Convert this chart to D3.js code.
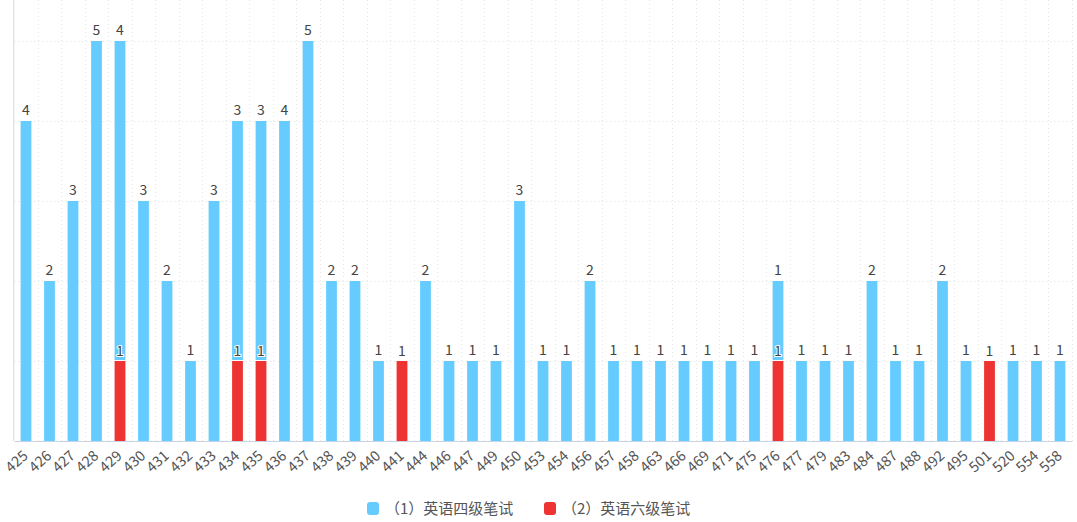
<!DOCTYPE html>
<html><head><meta charset="utf-8">
<script src="https://cdn.jsdelivr.net/npm/d3@7"></script>
<style>body{margin:0;background:#fff;font-family:"Noto Sans CJK SC","Noto Sans",sans-serif;}</style>
</head><body><svg id="c" width="1077" height="522"></svg>
<script>
const categories = ["425","426","427","428","429","430","431","432","433","434","435","436","437","438","439","440","441","444","446","447","449","450","453","454","456","457","458","463","466","469","471","475","476","477","479","483","484","487","488","492","495","501","520","554","558"];
const cet4 = [4,2,3,5,4,3,2,1,3,3,3,4,5,2,2,1,0,2,1,1,1,3,1,1,2,1,1,1,1,1,1,1,1,1,1,1,2,1,1,2,1,0,1,1,1];
const cet6 = [0,0,0,0,1,0,0,0,0,1,1,0,0,0,0,0,1,0,0,0,0,0,0,0,0,0,0,0,0,0,0,0,1,0,0,0,0,0,0,0,0,1,0,0,0];
const seriesNames = ["（1）英语四级笔试","（2）英语六级笔试"];
const colors = ["#66CCFF","#EE3333"];
const yTicks = [0,1,2,3,4,5];

const svg = d3.select("#c");
const left = 14.25, right = 1071.75, top0 = 0, bottom = 441;
const x = d3.scaleBand().domain(categories).range([left, right]).padding(0);
const y = d3.scaleLinear().domain([0,5]).range([bottom, 41]);
const bw = 10.8;
const font = "'Noto Sans CJK SC','Noto Sans',sans-serif";

svg.append("g").selectAll("line").data(yTicks.slice(1)).join("line")
  .attr("x1", left).attr("x2", right).attr("y1", d=>y(d)+0.5).attr("y2", d=>y(d)+0.5)
  .attr("stroke","#dedede").attr("stroke-dasharray","1,3");
svg.append("g").selectAll("line").data(categories).join("line")
  .attr("x1", (d,i)=>Math.round(left + (i+1)*x.bandwidth())+0.5)
  .attr("x2", (d,i)=>Math.round(left + (i+1)*x.bandwidth())+0.5)
  .attr("y1", top0).attr("y2", bottom)
  .attr("stroke","#e6e6e6").attr("stroke-dasharray","1,3");

const data = categories.map((c,i)=>({c, v6: cet6[i], v4: cet4[i]}));
svg.append("g").selectAll("rect").data(data.filter(d=>d.v6>0)).join("rect")
  .attr("x", d=>x(d.c)+x.bandwidth()/2-bw/2).attr("width", bw)
  .attr("y", d=>y(d.v6)).attr("height", d=>y(0)-y(d.v6))
  .attr("fill", colors[1]);
svg.append("g").selectAll("rect").data(data.filter(d=>d.v4>0)).join("rect")
  .attr("x", d=>x(d.c)+x.bandwidth()/2-bw/2).attr("width", bw)
  .attr("y", d=>y(d.v6+d.v4)).attr("height", d=>y(d.v6)-y(d.v6+d.v4) - (d.v6>0?1:0))
  .attr("fill", colors[0]);

svg.append("line").attr("x1", left-0.5).attr("x2", left-0.5).attr("y1", 0).attr("y2", bottom)
  .attr("stroke","#d5d8e0");
const xAxis = svg.append("g").attr("transform",`translate(0,${bottom})`)
  .call(d3.axisBottom(x).tickSize(0).tickPadding(0));
xAxis.select(".domain").attr("stroke","#c8d3e3");
xAxis.selectAll("text")
  .attr("font-family", font)
  .attr("font-size","14.5px").attr("fill","#555")
  .attr("text-anchor","end").attr("y",0).attr("dy","0")
  .attr("transform","translate(3,16) rotate(-42)");

const lab = svg.append("g").attr("font-family", font).attr("font-size","14px").attr("text-anchor","middle");
lab.selectAll("text.b").data(data.filter(d=>d.v4>0)).join("text")
  .attr("x", d=>x(d.c)+x.bandwidth()/2).attr("y", d=>y(d.v6+d.v4)-6)
  .attr("fill","#444").text(d=>d.v4);
lab.selectAll("text.r").data(data.filter(d=>d.v6>0)).join("text")
  .attr("x", d=>x(d.c)+x.bandwidth()/2).attr("y", d=>y(d.v6)-5)
  .attr("fill","#444").attr("stroke","#fff").attr("stroke-width",2).attr("paint-order","stroke")
  .text(d=>d.v6);

const lg = svg.append("g").attr("font-family", font).attr("font-size","15px");
const lx = [367, 544];
seriesNames.forEach((n,i)=>{
  lg.append("rect").attr("x", lx[i]).attr("y", 502).attr("width",12).attr("height",13).attr("rx",3).attr("fill",colors[i]);
  lg.append("text").attr("x", lx[i]+18).attr("y", 514).attr("fill","#555").text(n);
});
</script></body></html>
